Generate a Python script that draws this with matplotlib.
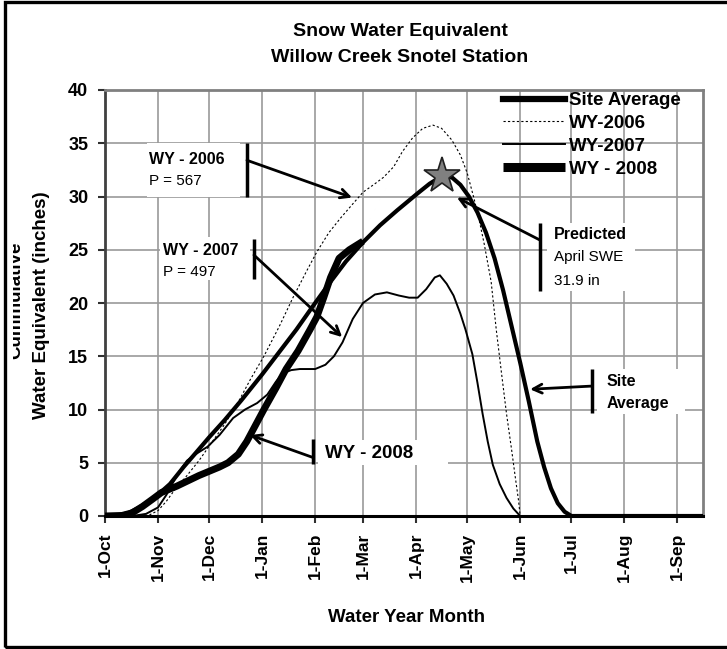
import matplotlib
matplotlib.use("Agg")
import matplotlib.pyplot as plt
from matplotlib.patches import Rectangle
from matplotlib.transforms import Bbox, TransformedBbox

plt.rcParams["font.family"] = ["Liberation Sans", "DejaVu Sans"]

# day of water year (0 = 1-Oct) and SWE in inches
avg_day = [0, 8, 14, 20, 26, 31, 38, 46, 53, 61, 70, 80, 92, 102, 112, 123, 132,
           141, 151, 161, 171, 183, 190, 197, 203, 208, 213, 218, 223, 228, 233,
           238, 243, 248, 253, 257, 261, 265, 269, 273, 349]
avg_swe = [0.0, 0.05, 0.3, 0.8, 1.4, 2.0, 3.0, 4.6, 5.9, 7.4, 9.0, 10.9, 13.3,
           15.4, 17.5, 20.0, 22.0, 23.9, 25.7, 27.3, 28.7, 30.3, 31.2, 31.9,
           31.8, 31.1, 30.0, 28.5, 26.6, 24.2, 21.2, 17.8, 14.4, 10.8, 7.0, 4.6,
           2.6, 1.2, 0.4, 0.0, 0.0]

wy2006_day = [0, 20, 26, 31, 36, 41, 48, 55, 62, 70, 79, 85, 93, 102, 110, 118,
              124, 131, 138, 145, 151, 158, 163, 169, 174, 180, 186, 192, 197,
              203, 208, 212, 216, 219, 222, 226, 229, 232, 235, 238, 240, 242,
              243, 349]
wy2006_swe = [0, 0, 0.1, 0.5, 1.4, 2.5, 3.8, 5.2, 6.8, 8.6, 11.0, 12.8, 15.0,
              17.8, 20.5, 23.0, 24.8, 26.6, 28.0, 29.3, 30.4, 31.2, 31.8, 32.8,
              34.2, 35.5, 36.4, 36.7, 36.4, 35.3, 33.9, 32.2, 29.8, 27.8, 25.5,
              22.0, 17.5, 13.5, 9.6, 6.2, 3.8, 1.5, 0.0, 0.0]

wy2007_day = [0, 16, 24, 31, 36, 40, 44, 48, 53, 60, 67, 75, 82, 89, 95, 100,
              104, 109, 114, 123, 129, 134, 139, 145, 151, 158, 165, 172, 178,
              183, 188, 193, 196, 200, 204, 208, 211, 215, 218, 221, 224, 227,
              231, 235, 239, 243, 349]
wy2007_swe = [0, 0, 0.2, 0.8, 2.0, 3.2, 4.3, 5.2, 5.8, 6.5, 7.6, 9.2, 10.0,
              10.6, 11.4, 12.6, 13.4, 13.7, 13.8, 13.8, 14.2, 15.0, 16.3, 18.5,
              20.0, 20.8, 21.0, 20.7, 20.5, 20.5, 21.3, 22.4, 22.6, 21.8, 20.7,
              19.0, 17.5, 15.2, 12.5, 9.6, 7.0, 4.8, 3.0, 1.7, 0.7, 0.0, 0.0]

wy2008_day = [0, 10, 16, 22, 28, 33, 42, 55, 67, 72, 78, 83, 88, 93, 100, 106,
              113, 120, 124, 128, 132, 137, 143, 151]
wy2008_swe = [0, 0.05, 0.3, 0.9, 1.6, 2.2, 2.8, 3.8, 4.6, 5.0, 5.8, 7.0, 8.5,
              10.0, 12.0, 13.8, 15.5, 17.5, 18.7, 20.5, 22.4, 24.2, 25.0, 25.8]

pred_day = 197
pred_swe = 31.9

month_days = [0, 31, 61, 92, 123, 151, 182, 212, 243, 273, 304, 335]
month_labels = ["1-Oct", "1-Nov", "1-Dec", "1-Jan", "1-Feb", "1-Mar", "1-Apr",
                "1-May", "1-Jun", "1-Jul", "1-Aug", "1-Sep"]

fig = plt.figure(figsize=(7.27, 6.49), dpi=100)
ax = fig.add_axes([105 / 727, 133 / 649, 598 / 727, 426 / 649])

ax.plot(avg_day, avg_swe, color="black", lw=3.0, label="Site Average", zorder=4)
ax.plot(wy2006_day, wy2006_swe, color="black", lw=0.8, ls=(0, (2, 2)),
        label="WY-2006", zorder=3)
ax.plot(wy2007_day, wy2007_swe, color="black", lw=1.4, label="WY-2007", zorder=3)
ax.plot(wy2008_day, wy2008_swe, color="black", lw=5.0, label="WY - 2008",
        zorder=4, solid_capstyle="butt")
ax.plot([pred_day], [pred_swe], marker="*", ms=27, mfc="#808080", mec="#202020",
        mew=1.2, zorder=8)

ax.set_xlim(0, 350)
ax.set_ylim(0, 40)
ax.set_xticks(month_days)
ax.set_xticklabels(month_labels, rotation=90, fontsize=12.5, fontweight="bold")
ax.set_yticks(range(0, 41, 5))
ax.set_yticklabels([str(v) for v in range(0, 41, 5)], fontsize=13,
                   fontweight="bold")
ax.tick_params(direction="out", length=5, width=1.5, color="#303030", pad=7)
ax.grid(True, color="#9a9a9a", lw=1.2)
ax.set_axisbelow(True)
for side in ["top", "right"]:
    ax.spines[side].set_color("#808080")
    ax.spines[side].set_linewidth(2)
ax.spines["left"].set_color("#404040")
ax.spines["left"].set_linewidth(2)
ax.spines["bottom"].set_color("black")
ax.spines["bottom"].set_linewidth(2.2)

leg = ax.legend(loc="upper left", bbox_to_anchor=(0.665, 0.995), frameon=False,
                borderpad=0, borderaxespad=0, handlelength=3.3,
                handletextpad=0.25, labelspacing=0.3,
                prop={"weight": "bold", "size": 13.5})
leg.get_lines()[0].set_linewidth(4.5)
leg.get_lines()[3].set_linewidth(6.5)


def callout(box, bar, tip, lines):
    x0, x1, y0, y1 = box
    ax.add_patch(Rectangle((x0, y0), x1 - x0, y1 - y0, facecolor="white",
                           edgecolor="none", zorder=6))
    bx, by0, by1, ay = bar
    ax.plot([bx, bx], [by0, by1], color="black", lw=2.5, zorder=7,
            solid_capstyle="butt")
    ax.annotate("", xy=tip, xytext=(bx, ay),
                arrowprops=dict(arrowstyle="->", color="black", lw=2,
                                mutation_scale=16, shrinkA=0, shrinkB=0),
                zorder=7)
    for tx, ty, s, w, fs in lines:
        ax.text(tx, ty, s, fontsize=fs, fontweight=w, va="center", ha="left",
                zorder=7)


callout((24.6, 79.0, 30.0, 35.0), (83.1, 30.0, 35.0, 33.4), (144.6, 29.9),
        [(25.8, 33.5, "WY - 2006", "bold", 11.5),
         (25.8, 31.5, "P = 567", "normal", 11)])
callout((32.0, 85.0, 22.2, 26.2), (87.2, 22.3, 26.0, 24.5), (138.8, 16.8),
        [(34.0, 24.9, "WY - 2007", "bold", 11.5),
         (34.0, 22.9, "P = 497", "normal", 11)])
callout((124.7, 200.8, 4.8, 7.1), (121.6, 4.9, 7.2, 5.5), (84.9, 7.6),
        [(128.8, 5.9, "WY - 2008", "bold", 13.5)])
callout((258.8, 310.3, 21.1, 27.5), (254.7, 21.1, 27.5, 25.9), (206.0, 29.9),
        [(262.9, 26.4, "Predicted", "bold", 11.5),
         (262.9, 24.3, "April SWE", "normal", 11),
         (262.9, 22.1, "31.9 in", "normal", 11)])
callout((288.0, 339.6, 9.6, 13.8), (285.1, 9.7, 13.8, 12.2), (248.8, 11.9),
        [(293.3, 12.6, "Site", "bold", 11.5),
         (293.3, 10.6, "Average", "bold", 11.5)])

fig.text(400 / 727, 1 - 31 / 649, "Snow Water Equivalent", ha="center",
         va="center", fontsize=14, fontweight="bold")
fig.text(400 / 727, 1 - 58 / 649, "Willow Creek Snotel Station", ha="center",
         va="center", fontsize=14, fontweight="bold")
fig.text(407 / 727, 1 - 618 / 649, "Water Year Month", ha="center",
         va="center", fontsize=13.5, fontweight="bold")
fig.text(42 / 727, 1 - 305 / 649, "Water Equivalent (inches)", rotation=90,
         ha="center", va="center", fontsize=13.5, fontweight="bold")
t = fig.text(16 / 727, 1 - 300 / 649, "Cummulative", rotation=90,
             ha="center", va="center", fontsize=13.5, fontweight="bold")
t.set_clip_box(TransformedBbox(Bbox([[13 / 727, 0], [1, 1]]), fig.transFigure))
t.set_clip_on(True)

fig.patches.append(Rectangle((5 / 727, 2 / 649), 1.1, 645 / 649,
                             transform=fig.transFigure, fill=False,
                             edgecolor="black", lw=2.4))

fig.savefig("out.png", dpi=100)
